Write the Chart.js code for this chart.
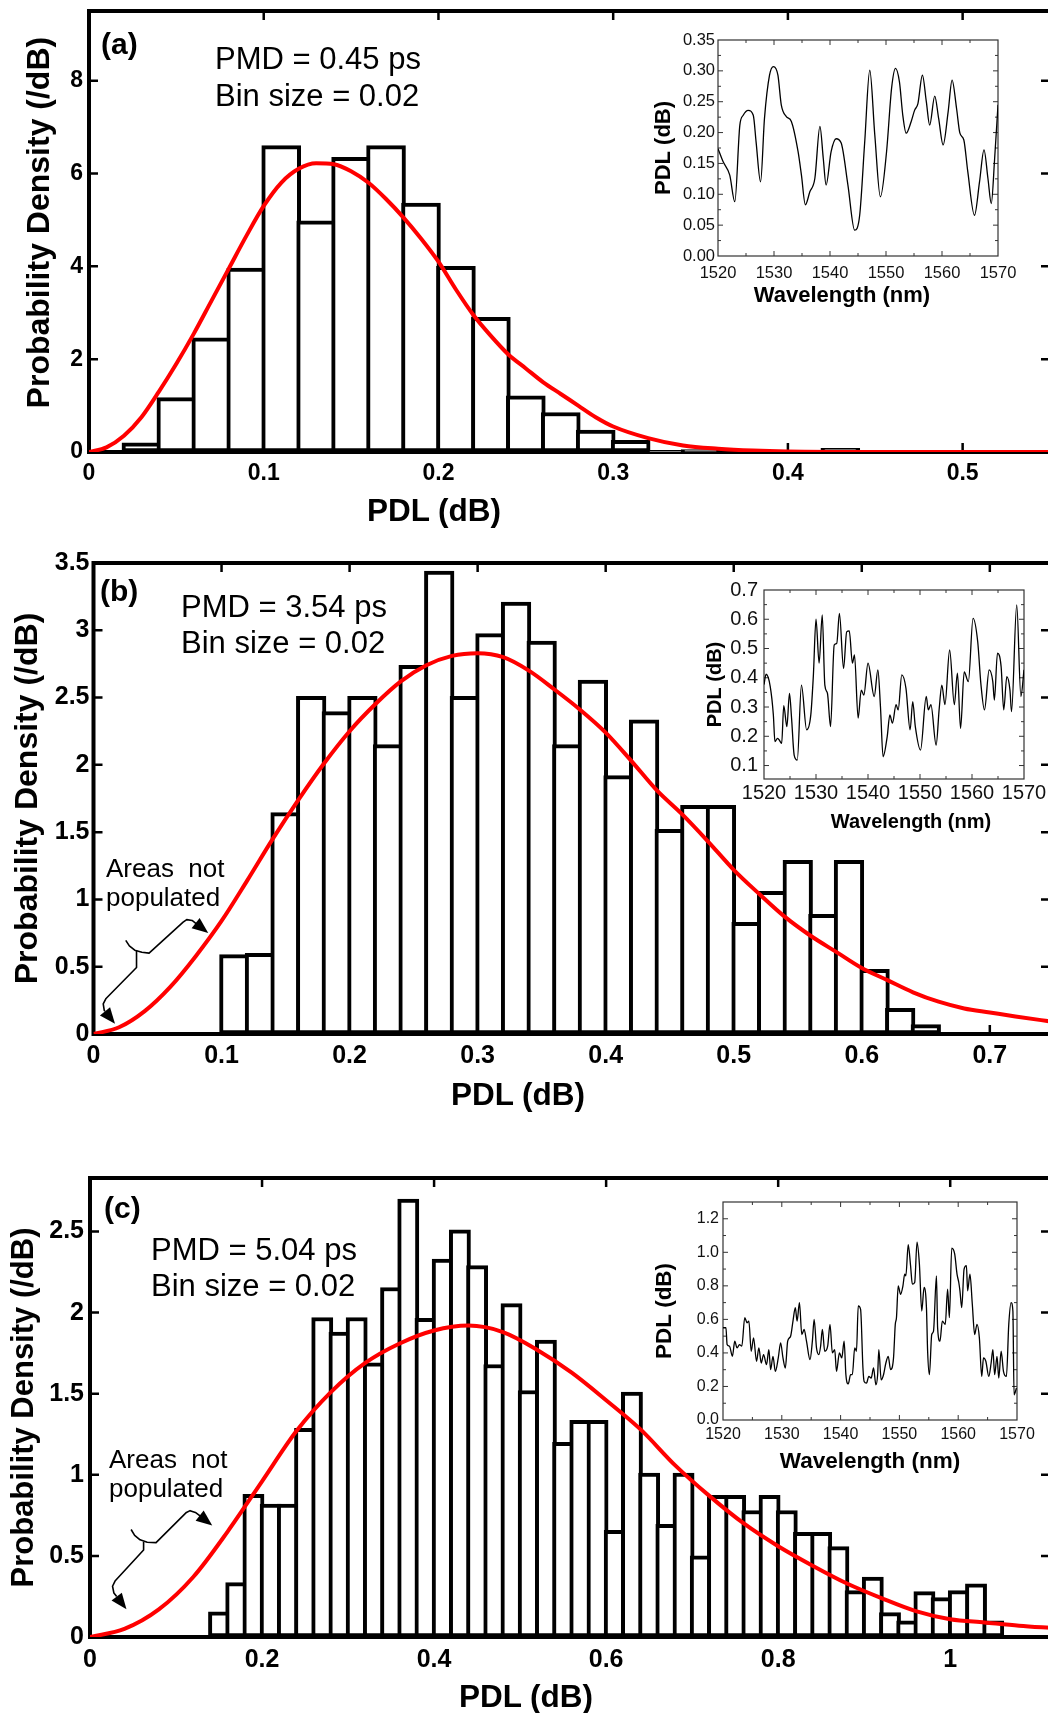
<!DOCTYPE html>
<html>
<head>
<meta charset="utf-8">
<title>PDL probability density</title>
<script src="https://cdn.jsdelivr.net/npm/chart.js@4.4.1/dist/chart.umd.min.js"></script>
<style>
  html, body { margin: 0; padding: 0; background: #fff; }
  body { width: 1048px; height: 1713px; overflow: hidden; position: relative; font-family: 'Liberation Sans', Arial, sans-serif; }
  canvas { position: absolute; }
  .txt { position: absolute; white-space: pre; line-height: 1; color: #000; }
  .ctr { transform: translateX(-50%); }
  .tag { font-weight: bold; font-size: 30px; }
  .pmd { font-size: 31px; }
  .note { font-size: 26px; }
  .xt { font-weight: bold; font-size: 31.5px; }
</style>
</head>
<body>
<canvas id="histA" width="1052" height="545" style="left:0;top:0"></canvas>
<canvas id="histB" width="1052" height="570" style="left:0;top:545px"></canvas>
<canvas id="histC" width="1052" height="598" style="left:0;top:1115px"></canvas>
<canvas id="insetA" width="408" height="290" style="left:640px;top:25px"></canvas>
<canvas id="insetB" width="358" height="265" style="left:690px;top:575px"></canvas>
<canvas id="insetC" width="408" height="290" style="left:640px;top:1195px"></canvas>

<div class="txt tag" style="left:101px;top:29px">(a)</div>
<div class="txt pmd" style="left:215px;top:43px">PMD = 0.45 ps</div>
<div class="txt pmd" style="left:215px;top:80px">Bin size = 0.02</div>
<div class="txt xt ctr" style="left:434px;top:495px">PDL (dB)</div>

<div class="txt tag" style="left:100px;top:576px">(b)</div>
<div class="txt pmd" style="left:181px;top:591px">PMD = 3.54 ps</div>
<div class="txt pmd" style="left:181px;top:627px">Bin size = 0.02</div>
<div class="txt note" style="left:106px;top:855px">Areas  not</div>
<div class="txt note" style="left:106px;top:884px">populated</div>
<div class="txt xt ctr" style="left:518px;top:1079px">PDL (dB)</div>

<div class="txt tag" style="left:104px;top:1193px">(c)</div>
<div class="txt pmd" style="left:151px;top:1234px">PMD = 5.04 ps</div>
<div class="txt pmd" style="left:151px;top:1270px">Bin size = 0.02</div>
<div class="txt note" style="left:109px;top:1446px">Areas  not</div>
<div class="txt note" style="left:109px;top:1475px">populated</div>
<div class="txt xt ctr" style="left:526px;top:1681px">PDL (dB)</div>

<div class="txt ctr" style="left:842px;top:284px;font-weight:bold;font-size:22px">Wavelength (nm)</div>
<div class="txt ctr" style="left:911px;top:811px;font-weight:bold;font-size:20px">Wavelength (nm)</div>
<div class="txt ctr" style="left:870px;top:1450px;font-weight:bold;font-size:22.5px">Wavelength (nm)</div>

<script>
// ---------- data ----------
const BIN = 0.02;

// (a) PMD = 0.45 ps
const aBinStart = [0.02, 0.04, 0.06, 0.08, 0.10, 0.12, 0.14, 0.16, 0.18, 0.20, 0.22, 0.24, 0.26, 0.28, 0.30, 0.32, 0.34, 0.42];
const aDensity  = [0.2, 1.17, 2.46, 3.96, 6.6, 4.98, 6.35, 6.6, 5.36, 4.0, 2.9, 1.21, 0.85, 0.47, 0.25, 0.02, 0.05, 0.08];
const aFitPdl = [0, 0.01, 0.02, 0.03, 0.04, 0.05, 0.06, 0.07, 0.08, 0.09, 0.10, 0.11, 0.12, 0.13, 0.14, 0.15, 0.16, 0.17, 0.18, 0.19, 0.20,
                 0.21, 0.22, 0.23, 0.24, 0.25, 0.26, 0.27, 0.28, 0.29, 0.30, 0.32, 0.34, 0.36, 0.38, 0.40, 0.45, 0.55];
const aFitDensity = [0, 0.1, 0.35, 0.75, 1.3, 1.9, 2.55, 3.25, 3.95, 4.65, 5.3, 5.8, 6.1, 6.22, 6.2, 6.05, 5.8, 5.45, 5.05, 4.6, 4.1,
                     3.5, 2.95, 2.5, 2.1, 1.8, 1.5, 1.25, 1.0, 0.75, 0.55, 0.3, 0.14, 0.07, 0.03, 0.01, 0, 0];
const aXTicks = [0, 0.1, 0.2, 0.3, 0.4, 0.5];
const aYTicks = [0, 2, 4, 6, 8];

// (b) PMD = 3.54 ps
const bBinStart = [0.10, 0.12, 0.14, 0.16, 0.18, 0.20, 0.22, 0.24, 0.26, 0.28, 0.30, 0.32, 0.34, 0.36,
                   0.38, 0.40, 0.42, 0.44, 0.46, 0.48, 0.50, 0.52, 0.54, 0.56, 0.58, 0.60, 0.62, 0.64];
const bDensity  = [0.59, 0.6, 1.645, 2.51, 2.395, 2.51, 2.15, 2.74, 3.44, 2.51, 2.975, 3.21, 2.92, 2.15,
                   2.63, 1.92, 2.335, 1.52, 1.7, 1.7, 0.83, 1.06, 1.29, 0.89, 1.29, 0.48, 0.19, 0.07];
const bFitPdl = [0, 0.02, 0.04, 0.06, 0.08, 0.10, 0.12, 0.14, 0.16, 0.18, 0.20, 0.22, 0.24, 0.26, 0.28, 0.30, 0.32, 0.34, 0.36,
                 0.38, 0.40, 0.42, 0.44, 0.46, 0.48, 0.50, 0.52, 0.54, 0.56, 0.58, 0.60, 0.62, 0.64, 0.66, 0.68, 0.70, 0.72, 0.75];
const bFitDensity = [0, 0.05, 0.17, 0.35, 0.58, 0.84, 1.14, 1.45, 1.74, 2.01, 2.25, 2.45, 2.62, 2.74, 2.81, 2.83, 2.8, 2.7, 2.56,
                     2.41, 2.24, 2.03, 1.81, 1.63, 1.43, 1.22, 1.04, 0.87, 0.73, 0.61, 0.49, 0.4, 0.31, 0.24, 0.19, 0.16, 0.13, 0.09];
const bXTicks = [0, 0.1, 0.2, 0.3, 0.4, 0.5, 0.6, 0.7];
const bYTicks = [0, 0.5, 1, 1.5, 2, 2.5, 3, 3.5];

// (c) PMD = 5.04 ps
const cBinStart = [0.14, 0.16, 0.18, 0.20, 0.22, 0.24, 0.26, 0.28, 0.30, 0.32, 0.34, 0.36, 0.38, 0.40, 0.42, 0.44,
                   0.46, 0.48, 0.50, 0.52, 0.54, 0.56, 0.58, 0.60, 0.62, 0.64, 0.66, 0.68, 0.70, 0.72, 0.74, 0.76,
                   0.78, 0.80, 0.82, 0.84, 0.86, 0.88, 0.90, 0.92, 0.94, 0.96, 0.98, 1.00, 1.02, 1.04];
const cDensity  = [0.155, 0.335, 0.88, 0.82, 0.82, 1.287, 1.97, 1.88, 1.97, 1.69, 2.155, 2.7, 1.965, 2.33, 2.51, 2.29,
                   1.68, 2.055, 1.52, 1.83, 1.2, 1.336, 1.336, 0.658, 1.51, 1.01, 0.694, 1.01, 0.5, 0.874, 0.874, 0.78,
                   0.874, 0.78, 0.646, 0.646, 0.557, 0.286, 0.37, 0.15, 0.1, 0.28, 0.243, 0.286, 0.328, 0.1];
const cFitPdl = [0, 0.04, 0.08, 0.12, 0.16, 0.20, 0.24, 0.28, 0.32, 0.36, 0.40, 0.44, 0.48, 0.52, 0.56,
                 0.60, 0.64, 0.68, 0.72, 0.76, 0.80, 0.84, 0.88, 0.92, 0.96, 1.00, 1.04, 1.08, 1.12];
const cFitDensity = [0, 0.05, 0.17, 0.37, 0.65, 0.96, 1.27, 1.51, 1.69, 1.81, 1.89, 1.92, 1.88, 1.77, 1.63,
                     1.46, 1.28, 1.06, 0.87, 0.7, 0.56, 0.44, 0.33, 0.24, 0.16, 0.11, 0.09, 0.07, 0.055];
const cXTicks = [0, 0.2, 0.4, 0.6, 0.8, 1];
const cYTicks = [0, 0.5, 1, 1.5, 2, 2.5];

// "Areas not populated" braces, in data units (last point = arrow tip)
const bBraceUpper = [[0.0252, 0.696], [0.0280, 0.655], [0.0322, 0.623], [0.0378, 0.607], [0.0434, 0.601], [0.0700, 0.831],
                     [0.0728, 0.850], [0.0770, 0.844], [0.0806, 0.817], [0.0896, 0.750]];
const bBraceLower = [[0.0336, 0.623], [0.0336, 0.494], [0.0098, 0.264], [0.0076, 0.224], [0.0084, 0.175], [0.0168, 0.0755]];
const cBraceUpper = [[0.0478, 0.663], [0.0519, 0.627], [0.0582, 0.599], [0.0665, 0.584], [0.0768, 0.582], [0.1121, 0.768],
                     [0.1163, 0.779], [0.1225, 0.768], [0.1279, 0.747], [0.1421, 0.688]];
const cBraceLower = [[0.0623, 0.588], [0.0623, 0.536], [0.0291, 0.345], [0.0262, 0.313], [0.0278, 0.271], [0.0424, 0.171]];

// insets: PDL vs wavelength
const waveTicks = [1520, 1530, 1540, 1550, 1560, 1570];

const iaWave = [1520, 1520.9, 1522.1, 1523.0, 1523.9, 1524.5, 1525.4, 1526.3, 1526.8, 1527.6, 1528.3, 1529.2, 1529.9, 1530.7,
                1531.3, 1532.2, 1533.1, 1534.3, 1534.9, 1535.6, 1536.4, 1537.3, 1538.2, 1538.8, 1539.3, 1540.2, 1541.1, 1542.0,
                1543.2, 1544.4, 1545.3, 1546.2, 1547.1, 1548.0, 1549.0, 1550.1, 1551.0, 1551.7, 1552.4, 1553.0, 1553.6, 1554.5,
                1555.1, 1555.7, 1556.5, 1557.2, 1557.8, 1558.7, 1559.4, 1560.2, 1561.1, 1561.8, 1562.6, 1563.2, 1563.9, 1564.6,
                1565.8, 1566.7, 1567.5, 1568.2, 1568.8, 1569.4, 1570];
const iaPdl = [0.174, 0.153, 0.131, 0.088, 0.212, 0.228, 0.236, 0.228, 0.185, 0.12, 0.223, 0.293, 0.307, 0.293,
               0.245, 0.226, 0.218, 0.169, 0.131, 0.083, 0.104, 0.126, 0.21, 0.158, 0.115, 0.169, 0.19, 0.183,
               0.115, 0.042, 0.066, 0.185, 0.301, 0.196, 0.096, 0.169, 0.272, 0.304, 0.282, 0.228, 0.199, 0.218,
               0.236, 0.247, 0.293, 0.25, 0.212, 0.259, 0.223, 0.18, 0.234, 0.285, 0.239, 0.199, 0.188, 0.137,
               0.066, 0.12, 0.172, 0.126, 0.085, 0.158, 0.245];
const iaYTicks = [0, 0.05, 0.10, 0.15, 0.20, 0.25, 0.30, 0.35];

const ibWave = [1520, 1520.4, 1521.2, 1521.8, 1522.1, 1522.6, 1522.9, 1523.4, 1523.8, 1524.4, 1524.9, 1525.3, 1525.8, 1526.4,
                1527.2, 1528.2, 1529.0, 1529.5, 1530.0, 1530.6, 1531.2, 1531.7, 1532.2, 1532.8, 1533.5, 1534.0, 1534.5, 1535.3,
                1535.9, 1536.4, 1537.0, 1537.4, 1538.1, 1538.7, 1539.2, 1540.0, 1541.2, 1541.9, 1542.4, 1542.9, 1543.7, 1544.2,
                1544.7, 1545.4, 1545.8, 1546.5, 1547.3, 1548.1, 1548.6, 1549.1, 1550.1, 1551.2, 1551.6, 1552.1, 1553.1, 1553.7,
                1554.2, 1554.8, 1555.7, 1556.6, 1557.2, 1557.8, 1558.5, 1559.3, 1560.2, 1561.1, 1561.7, 1562.4, 1563.3, 1564.0,
                1564.3, 1564.9, 1565.6, 1566.1, 1566.7, 1567.3, 1567.6, 1568.6, 1569.4, 1570];
const ibPdl = [0.377, 0.412, 0.37, 0.273, 0.182, 0.193, 0.188, 0.176, 0.305, 0.233, 0.347, 0.262, 0.136, 0.119,
               0.375, 0.222, 0.273, 0.41, 0.6, 0.45, 0.615, 0.375, 0.347, 0.233, 0.512, 0.518, 0.62, 0.432,
               0.557, 0.56, 0.45, 0.478, 0.262, 0.358, 0.341, 0.45, 0.336, 0.427, 0.30, 0.13, 0.2, 0.273,
               0.245, 0.308, 0.29, 0.41, 0.364, 0.222, 0.318, 0.233, 0.153, 0.336, 0.29, 0.308, 0.17, 0.296,
               0.375, 0.308, 0.495, 0.308, 0.416, 0.227, 0.42, 0.387, 0.603, 0.523, 0.381, 0.29, 0.427, 0.387,
               0.324, 0.484, 0.438, 0.29, 0.404, 0.358, 0.284, 0.649, 0.336, 0.427];
const ibYTicks = [0.1, 0.2, 0.3, 0.4, 0.5, 0.6, 0.7];

const icWave = [1520, 1520.5, 1520.7, 1521.1, 1521.6, 1522.0, 1522.4, 1522.8, 1523.2, 1523.7, 1524.1, 1524.4, 1524.8, 1525.2,
                1525.7, 1526.1, 1526.5, 1526.9, 1527.4, 1527.8, 1528.1, 1528.5, 1528.9, 1529.4, 1529.8, 1530.2, 1530.6, 1531.0,
                1531.5, 1531.9, 1532.3, 1532.6, 1533.0, 1533.4, 1533.8, 1534.2, 1534.8, 1535.2, 1535.5, 1535.9, 1536.3, 1536.6,
                1536.9, 1537.3, 1537.8, 1538.2, 1538.6, 1539.0, 1539.3, 1539.8, 1540.2, 1540.6, 1540.9, 1541.3, 1541.7, 1542.0,
                1542.4, 1542.7, 1543.0, 1543.4, 1543.8, 1544.0, 1544.4, 1544.8, 1545.2, 1545.6, 1546.0, 1546.3, 1546.5, 1546.9,
                1547.3, 1547.7, 1548.1, 1548.5, 1549.0, 1549.3, 1549.5, 1549.8, 1550.2, 1550.6, 1550.9, 1551.1, 1551.5, 1551.9,
                1552.2, 1552.6, 1553.0, 1553.4, 1553.8, 1554.2, 1554.6, 1554.8, 1555.1, 1555.5, 1555.8, 1556.3, 1556.5, 1556.9,
                1557.3, 1557.8, 1558.2, 1558.5, 1558.9, 1559.4, 1559.8, 1560.1, 1560.3, 1560.6, 1561.0, 1561.4, 1561.6, 1562.0,
                1562.4, 1562.8, 1563.2, 1563.6, 1564.0, 1564.3, 1564.7, 1565.2, 1565.6, 1565.9, 1566.2, 1566.6, 1566.9, 1567.3,
                1567.7, 1568.2, 1568.6, 1569.0, 1569.3, 1569.5, 1569.9];
const icPdl = [0.55, 0.55, 0.45, 0.44, 0.38, 0.47, 0.43, 0.45, 0.44, 0.61, 0.58, 0.59, 0.41, 0.49,
               0.35, 0.43, 0.34, 0.39, 0.33, 0.42, 0.30, 0.38, 0.29, 0.37, 0.46, 0.37, 0.31, 0.47,
               0.50, 0.59, 0.67, 0.59, 0.70, 0.51, 0.54, 0.47, 0.36, 0.47, 0.60, 0.43, 0.39, 0.44,
               0.54, 0.41, 0.44, 0.57, 0.40, 0.42, 0.29, 0.40, 0.37, 0.47, 0.27, 0.215, 0.27, 0.27,
               0.43, 0.41, 0.68, 0.66, 0.31, 0.23, 0.22, 0.26, 0.25, 0.31, 0.21, 0.27, 0.42, 0.24,
               0.27, 0.34, 0.38, 0.30, 0.37, 0.57, 0.61, 0.80, 0.75, 0.80, 0.87, 0.86, 1.045, 0.92,
               0.81, 0.82, 1.06, 0.93, 0.65, 0.79, 0.67, 0.41, 0.27, 0.51, 0.53, 0.86, 0.55, 0.47,
               0.59, 0.57, 0.78, 0.61, 1.025, 0.99, 0.87, 0.82, 0.77, 0.67, 0.90, 0.92, 0.77, 0.87,
               0.69, 0.51, 0.57, 0.49, 0.26, 0.37, 0.35, 0.26, 0.34, 0.42, 0.27, 0.38, 0.25, 0.41,
               0.29, 0.26, 0.57, 0.70, 0.65, 0.15, 0.19];
const icYTicks = [0, 0.2, 0.4, 0.6, 0.8, 1.0, 1.2];

// ---------- drawing ----------
Chart.defaults.font.family = "'Liberation Sans', Arial, Helvetica, sans-serif";
Chart.defaults.color = '#000';

// box with inward tick marks on all four sides
const framePlugin = {
  id: 'frame',
  beforeDatasetsDraw(chart, args, o) {
    const { ctx, chartArea: a, scales: { x, y } } = chart;
    ctx.save();
    ctx.strokeStyle = o.color;
    ctx.lineWidth = o.width;
    ctx.strokeRect(a.left, a.top, a.right - a.left, a.bottom - a.top);
    ctx.lineWidth = o.tickWidth;
    ctx.beginPath();
    const marks = (vals, len) => {
      vals.forEach(v => {
        const px = x.getPixelForValue(v);
        if (px <= a.left + 1 || px >= a.right - 1) return;
        ctx.moveTo(px, a.bottom); ctx.lineTo(px, a.bottom - len);
        ctx.moveTo(px, a.top); ctx.lineTo(px, a.top + len);
      });
    };
    const ymarks = (vals, len) => {
      vals.forEach(v => {
        const py = y.getPixelForValue(v);
        if (py <= a.top + 1 || py >= a.bottom - 1) return;
        ctx.moveTo(a.left, py); ctx.lineTo(a.left + len, py);
        ctx.moveTo(a.right, py); ctx.lineTo(a.right - len, py);
      });
    };
    marks(o.xTicks, o.len);
    ymarks(o.yTicks, o.len);
    if (o.minor) {
      const mids = t => t.slice(1).map((v, i) => (v + t[i]) / 2);
      marks(mids(o.xTicks), o.minorLen);
      ymarks(mids(o.yTicks).concat([o.yTicks[0] - (o.yTicks[1] - o.yTicks[0]) / 2]), o.minorLen);
    }
    ctx.stroke();
    ctx.restore();
  }
};

// curly connector with two arrows
const bracePlugin = {
  id: 'brace',
  afterDatasetsDraw(chart, args, o) {
    if (!o.paths || !o.paths.length) return;
    const { ctx, scales: { x, y } } = chart;
    ctx.save();
    ctx.strokeStyle = '#000';
    ctx.fillStyle = '#000';
    ctx.lineWidth = 1.6;
    ctx.lineJoin = 'round';
    o.paths.forEach(pts => {
      const p = pts.map(([vx, vy]) => [x.getPixelForValue(vx), y.getPixelForValue(vy)]);
      const tip = p[p.length - 1], prev = p[p.length - 2];
      const ang = Math.atan2(tip[1] - prev[1], tip[0] - prev[0]);
      const L = 16, H = 6.5;
      const bx = tip[0] - L * Math.cos(ang), by = tip[1] - L * Math.sin(ang);
      ctx.beginPath();
      ctx.moveTo(p[0][0], p[0][1]);
      for (let i = 1; i < p.length - 1; i++) ctx.lineTo(p[i][0], p[i][1]);
      ctx.lineTo(bx, by);
      ctx.stroke();
      ctx.beginPath();
      ctx.moveTo(tip[0], tip[1]);
      ctx.lineTo(bx + H * Math.sin(ang), by - H * Math.cos(ang));
      ctx.lineTo(bx - H * Math.sin(ang), by + H * Math.cos(ang));
      ctx.closePath();
      ctx.fill();
    });
    ctx.restore();
  }
};

// keep the plot box exactly where it is asked to be
const noPad = s => { s.paddingTop = 0; s.paddingBottom = 0; s.paddingLeft = 0; s.paddingRight = 0; };

function histChart(id, area, p) {
  const cv = document.getElementById(id);
  const pxPerX = (area.r - area.l) / p.xMax;
  return new Chart(cv, {
    type: 'bar',
    data: {
      datasets: [
        {
          type: 'line',
          data: p.fitX.map((v, i) => ({ x: v, y: p.fitY[i] })),
          borderColor: '#ff0000',
          borderWidth: 4,
          pointRadius: 0,
          cubicInterpolationMode: 'monotone',
          order: 0
        },
        {
          type: 'bar',
          data: p.bins.map((b, i) => ({ x: b + BIN / 2, y: p.dens[i] })),
          backgroundColor: '#ffffff',
          borderColor: '#000000',
          borderWidth: 4,
          borderSkipped: false,
          barThickness: BIN * pxPerX + 4,
          order: 1
        }
      ]
    },
    options: {
      responsive: false,
      animation: false,
      devicePixelRatio: 1,
      events: [],
      layout: { padding: { left: 0, bottom: 0, top: area.t, right: cv.width - area.r } },
      plugins: {
        legend: { display: false },
        tooltip: { enabled: false },
        frame: { color: '#000', width: 4, tickWidth: 2.5, len: 9, xTicks: p.xTicks, yTicks: p.yTicks },
        brace: { paths: p.braces }
      },
      scales: {
        x: {
          type: 'linear', min: 0, max: p.xMax, offset: false,
          grid: { display: false, drawTicks: false }, border: { display: false },
          afterBuildTicks: s => { s.ticks = p.xTicks.map(v => ({ value: v })); },
          afterFit: s => { s.height = cv.height - area.b; noPad(s); },
          ticks: { autoSkip: false, maxRotation: 0, padding: p.xPad,
                   font: { size: p.tickSize, weight: 'bold', lineHeight: 1 }, callback: v => String(v) },
          title: { display: false }
        },
        y: {
          type: 'linear', min: 0, max: p.yMax,
          grid: { display: false, drawTicks: false }, border: { display: false },
          afterBuildTicks: s => { s.ticks = p.yTicks.map(v => ({ value: v })); },
          afterFit: s => { s.width = area.l; noPad(s); },
          ticks: { autoSkip: false, padding: p.yPad,
                   font: { size: p.tickSize, weight: 'bold', lineHeight: 1 }, callback: v => String(v) },
          title: { display: true, text: p.yTitle,
                   font: { size: p.yTitleSize, weight: 'bold', lineHeight: 1 },
                   padding: { top: p.yTitlePad, bottom: 0 } }
        }
      }
    },
    plugins: [framePlugin, bracePlugin]
  });
}

function insetChart(id, area, p) {
  const cv = document.getElementById(id);
  return new Chart(cv, {
    type: 'line',
    data: {
      datasets: [{
        data: p.wave.map((v, i) => ({ x: v, y: p.pdl[i] })),
        borderColor: '#000',
        borderWidth: 1.3,
        pointRadius: 0,
        cubicInterpolationMode: 'monotone'
      }]
    },
    options: {
      responsive: false,
      animation: false,
      devicePixelRatio: 1,
      events: [],
      layout: { padding: { left: 0, bottom: 0, top: area.t, right: cv.width - area.r } },
      plugins: {
        legend: { display: false },
        tooltip: { enabled: false },
        frame: { color: '#333', width: 1.2, tickWidth: 1, len: 5, minor: true, minorLen: 3,
                 xTicks: waveTicks, yTicks: p.yTicks }
      },
      scales: {
        x: {
          type: 'linear', min: 1520, max: 1570,
          grid: { display: false, drawTicks: false }, border: { display: false },
          afterBuildTicks: s => { s.ticks = waveTicks.map(v => ({ value: v })); },
          afterFit: s => { s.height = cv.height - area.b; noPad(s); },
          ticks: { autoSkip: false, maxRotation: 0, padding: p.xPad,
                   font: { size: p.tickSize, lineHeight: 1 }, color: '#111', callback: v => String(v) }
        },
        y: {
          type: 'linear', min: p.yMin, max: p.yMax,
          grid: { display: false, drawTicks: false }, border: { display: false },
          afterBuildTicks: s => { s.ticks = p.yTicks.map(v => ({ value: v })); },
          afterFit: s => { s.width = area.l; noPad(s); },
          ticks: { autoSkip: false, padding: p.yPad,
                   font: { size: p.tickSize, lineHeight: 1 }, color: '#111', callback: v => v.toFixed(p.dec) },
          title: { display: true, text: 'PDL (dB)',
                   font: { size: p.titleSize, weight: 'bold', lineHeight: 1 },
                   padding: { top: p.yTitlePad, bottom: 0 } }
        }
      }
    },
    plugins: [framePlugin]
  });
}

histChart('histA', { l: 89, t: 11, r: 1050, b: 452 }, {
  bins: aBinStart, dens: aDensity, fitX: aFitPdl, fitY: aFitDensity,
  xTicks: aXTicks, yTicks: aYTicks, xMax: 0.55, yMax: 9.5,
  tickSize: 23, xPad: 10, yPad: 6, yTitle: '  Probability Density (/dB)', yTitleSize: 32, yTitlePad: 24, braces: []
});
histChart('histB', { l: 93.5, t: 18, r: 1050, b: 489 }, {
  bins: bBinStart, dens: bDensity, fitX: bFitPdl, fitY: bFitDensity,
  xTicks: bXTicks, yTicks: bYTicks, xMax: 0.747, yMax: 3.5,
  tickSize: 25, xPad: 10, yPad: 4, yTitle: 'Probability Density (/dB)', yTitleSize: 32, yTitlePad: 12,
  braces: [bBraceUpper, bBraceLower]
});
histChart('histC', { l: 90, t: 63, r: 1050, b: 522 }, {
  bins: cBinStart, dens: cDensity, fitX: cFitPdl, fitY: cFitDensity,
  xTicks: cXTicks, yTicks: cYTicks, xMax: 1.116, yMax: 2.83,
  tickSize: 25, xPad: 10.5, yPad: 6, yTitle: 'Probability Density (/dB)', yTitleSize: 31, yTitlePad: 8.5,
  braces: [cBraceUpper, cBraceLower]
});

insetChart('insetA', { l: 78, t: 15, r: 358, b: 231 }, {
  wave: iaWave, pdl: iaPdl, yTicks: iaYTicks, yMin: 0, yMax: 0.35, dec: 2,
  tickSize: 16.5, xPad: 9, yPad: 3, titleSize: 22, yTitlePad: 13
});
insetChart('insetB', { l: 74, t: 15, r: 334, b: 204 }, {
  wave: ibWave, pdl: ibPdl, yTicks: ibYTicks, yMin: 0.054, yMax: 0.7, dec: 1,
  tickSize: 20, xPad: 4, yPad: 6, titleSize: 20, yTitlePad: 15
});
insetChart('insetC', { l: 83, t: 7, r: 377, b: 225 }, {
  wave: icWave, pdl: icPdl, yTicks: icYTicks, yMin: 0, yMax: 1.3, dec: 1,
  tickSize: 16, xPad: 7, yPad: 4, titleSize: 22.5, yTitlePad: 14
});
</script>
</body>
</html>
